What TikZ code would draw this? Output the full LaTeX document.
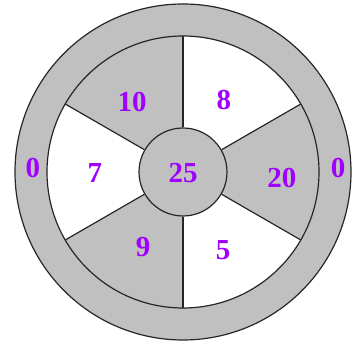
\documentclass[tikz,border=0pt]{standalone}
\usepackage{fontspec}
\setmainfont{Liberation Serif}
\usetikzlibrary{calc}
\definecolor{ringgray}{RGB}{192,192,192}
\definecolor{numpurple}{RGB}{160,0,255}
\begin{document}
\begin{tikzpicture}[x=1pt,y=1pt,
  edge/.style={draw=black!85,line width=1.2pt},
  num/.style={text=numpurple,font=\fontsize{29}{31}\selectfont\bfseries,inner sep=0pt}]
\useasboundingbox (0,0) rectangle (360,347);
\coordinate (c) at (183,175);
% outer ring
\fill[ringgray] (c) circle[radius=168];
\draw[edge] (c) circle[radius=168];
% sectors
\foreach \a/\col in {150/ringgray,90/white,30/ringgray,-30/white,-90/ringgray,210/white}{
  \fill[\col] (c) -- ++(\a:136) arc[start angle=\a, delta angle=-60, radius=136] -- cycle;
}
\draw[edge] (c) circle[radius=136];
% hub
\node[circle,fill=ringgray,edge,minimum size=88pt,inner sep=0pt] (hub) at (c) {};
% spokes
\foreach \a in {90,30,-30,-90,-150,150}{
  \coordinate (r\a) at ($(c)+(\a:136)$);
  \draw[edge] (hub.\a) -- (r\a);
}
% labels
\node[num] (n10) at (132,245) {10};
\node[num] (n8) at (224,247) {8};
\node[num] (n20) at (282,169) {20};
\node[num] (n5) at (223,97) {5};
\node[num] (n9) at (143,100) {9};
\node[num] (n7) at (95,174) {7};
\node[num] (n25) at (183,174) {25};
\node[num] (n0l) at (33,179) {0};
\node[num] (n0r) at (338,179) {0};
\end{tikzpicture}
\end{document}
